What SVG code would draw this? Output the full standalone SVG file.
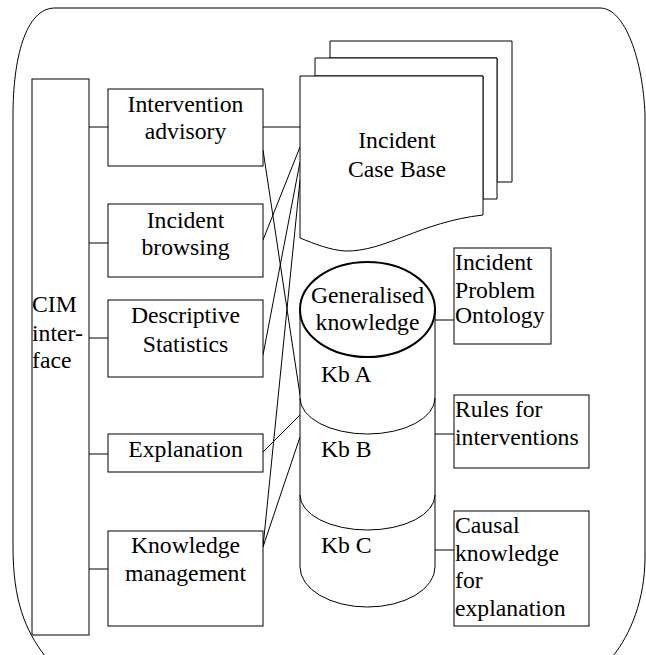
<svg xmlns="http://www.w3.org/2000/svg" width="646" height="655" viewBox="0 0 646 655">
<style>
.s{fill:none;stroke:#000;stroke-width:1}
.b{fill:#fff;stroke:#000;stroke-width:1}
.t{font-family:"Liberation Serif","Times New Roman",serif;font-size:23.7px;fill:#000}
.c{text-anchor:middle}
</style>
<rect width="646" height="655" fill="#fff"/>
<g id="frame">
<path class="s" d="M 45 656 C 25 630 13 600 13 547 V 115 C 13 60 25 8 55 8 H 600 C 625 8 643 60 645 115 V 557 C 645 600 630 635 613 656"/>
</g>
<g id="connectors">
<line class="s" x1="89" y1="127" x2="108" y2="127" stroke-width="1.6"/>
<line class="s" x1="89" y1="243" x2="108" y2="243"/>
<line class="s" x1="89" y1="338" x2="108" y2="338"/>
<line class="s" x1="89" y1="454" x2="108" y2="454" stroke-width="2"/>
<line class="s" x1="89" y1="569" x2="108" y2="569" stroke="#555"/>
<line class="s" x1="263" y1="127" x2="300" y2="127"/>
<line class="s" x1="263" y1="150" x2="300" y2="395"/>
<line class="s" x1="263" y1="240" x2="300" y2="147"/>
<line class="s" x1="263" y1="355" x2="300" y2="162"/>
<line class="s" x1="263" y1="547" x2="300" y2="180"/>
<line class="s" x1="263" y1="452" x2="300" y2="415"/>
<line class="s" x1="263" y1="547" x2="300" y2="437"/>
<line class="s" x1="435" y1="320" x2="454" y2="320"/>
<line class="s" x1="435" y1="434" x2="454" y2="434"/>
<line class="s" x1="435" y1="550" x2="454" y2="550"/>
</g>
<g id="cim">
<rect class="b" x="32" y="79" width="57" height="556"/>
<text class="t" x="32" y="312">CIM</text>
<text class="t" x="32" y="341">inter-</text>
<text class="t" x="32" y="368">face</text>
</g>
<g id="intervention">
<rect class="b" x="108" y="89" width="155" height="77"/>
<text class="t c" x="185.5" y="112">Intervention</text>
<text class="t c" x="185.5" y="139">advisory</text>
</g>
<g id="browsing">
<rect class="b" x="108" y="204" width="155" height="73"/>
<text class="t c" x="185.5" y="228">Incident</text>
<text class="t c" x="185.5" y="255">browsing</text>
</g>
<g id="statistics">
<rect class="b" x="108" y="300" width="155" height="77"/>
<text class="t c" x="185.5" y="323">Descriptive</text>
<text class="t c" x="185.5" y="352">Statistics</text>
</g>
<g id="explanation">
<rect class="b" x="108" y="434" width="155" height="38"/>
<text class="t c" x="185.5" y="457">Explanation</text>
</g>
<g id="knowledge-management">
<rect class="b" x="108" y="531" width="155" height="95"/>
<text class="t c" x="185.5" y="553">Knowledge</text>
<text class="t c" x="185.5" y="581">management</text>
</g>
<g id="case-base">
<path class="b" d="M 330 58 V 41 H 512 V 182 H 497 V 58 Z"/>
<path class="b" d="M 315 76 V 58 H 497 V 199 H 483 V 76 Z"/>
<path class="b" d="M 300 76 H 483 V 215 C 420 222 385 252 345 251 C 330 250 315 244 300 238 Z"/>
<text class="t c" x="397" y="148">Incident</text>
<text class="t c" x="397" y="177">Case Base</text>
</g>
<g id="knowledge-base">
<path class="b" d="M 300 310 V 567 A 67.5 40 0 0 0 435 567 V 310"/>
<path class="s" d="M 300 398 A 67.5 36 0 0 0 435 398"/>
<path class="s" d="M 300 495 A 67.5 35 0 0 0 435 495"/>
<text class="t" x="321" y="382">Kb A</text>
<text class="t" x="321" y="457">Kb B</text>
<text class="t" x="321" y="553">Kb C</text>
</g>
<g id="generalised">
<ellipse cx="367.5" cy="309.5" rx="67.5" ry="47.5" fill="#fff" stroke="#000" stroke-width="2"/>
<text class="t c" x="367.5" y="303">Generalised</text>
<text class="t c" x="367.5" y="330">knowledge</text>
</g>
<g id="ontology">
<rect class="b" x="454" y="248" width="97" height="96"/>
<text class="t" x="455" y="270">Incident</text>
<text class="t" x="455" y="298">Problem</text>
<text class="t" x="455" y="323">Ontology</text>
</g>
<g id="rules">
<rect class="b" x="454" y="395" width="135" height="73"/>
<text class="t" x="455" y="417">Rules for</text>
<text class="t" x="455" y="445">interventions</text>
</g>
<g id="causal">
<rect class="b" x="454" y="511" width="135" height="115" stroke-width="2"/>
<text class="t" x="455" y="533">Causal</text>
<text class="t" x="455" y="561">knowledge</text>
<text class="t" x="455" y="588">for</text>
<text class="t" x="455" y="616">explanation</text>
</g>
</svg>
